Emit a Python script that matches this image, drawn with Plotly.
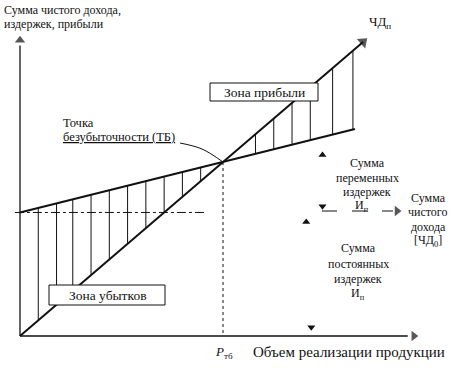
import numpy as np
import plotly.graph_objects as go

# ---- model data (break-even chart, conventional units) ----
revenue_x = [0.0, 16.9]          # net income line ЧД
revenue_y = [0.0, 16.9]
cost_x = [0.0, 16.5]             # total cost line
cost_y = [7.1, 11.9]
fixed_x = [-0.25, 9.2]           # fixed costs level
fixed_y = [7.1, 7.1]
breakeven_x = 10.0
breakeven_y = 10.0
loss_hatch_x = [0.9, 1.8, 2.6, 3.5, 4.4, 5.3, 6.2, 7.1, 8.0, 8.9]
profit_hatch_x = [11.6, 12.5, 13.4, 14.3, 15.4, 16.4]
axis_x_max = 19.4
axis_y_max = 17.0
# range markers (dimension arrows) for variable and fixed costs
var_range_x = [14.9, 14.9]
var_range_y = [10.4, 7.45]
fix_range_x = [14.1, 14.35]
fix_range_y = [6.55, 0.5]

W, H = 453, 368
X0, KX, Y0, KY = 20, 20.3, 336, 17.4


def dx(p):
    return (p - X0) / KX


def dy(p):
    return (Y0 - p) / KY


def px(x):
    return x / W


def py(y):
    return 1 - y / H


FONT = "Liberation Serif"
BLACK = "#111111"

fig = go.Figure()


def hatch(xs, top, bottom):
    X, Y = [], []
    for x in xs:
        X += [x, x, None]
        Y += [np.interp(x, top[0], top[1]), np.interp(x, bottom[0], bottom[1]), None]
    return X, Y


hx, hy = hatch(loss_hatch_x, (cost_x, cost_y), (revenue_x, revenue_y))
fig.add_trace(go.Scatter(x=hx, y=hy, mode="lines", line=dict(color=BLACK, width=1), hoverinfo="skip"))
hx, hy = hatch(profit_hatch_x, (revenue_x, revenue_y), (cost_x, cost_y))
fig.add_trace(go.Scatter(x=hx, y=hy, mode="lines", line=dict(color=BLACK, width=1), hoverinfo="skip"))

# fixed cost dashed line
fig.add_trace(go.Scatter(x=fixed_x, y=fixed_y, mode="lines",
                         line=dict(color=BLACK, width=1, dash="dashdot"), hoverinfo="skip"))
# break-even vertical dotted line
fig.add_trace(go.Scatter(x=[breakeven_x, breakeven_x], y=[breakeven_y, 0], mode="lines",
                         line=dict(color=BLACK, width=1, dash="dot"), hoverinfo="skip"))

# axes
fig.add_trace(go.Scatter(x=[0, 0], y=[0, axis_y_max - 0.3], mode="lines",
                         line=dict(color=BLACK, width=1.3), hoverinfo="skip"))
fig.add_trace(go.Scatter(x=[0, axis_x_max - 0.3], y=[0, 0], mode="lines",
                         line=dict(color=BLACK, width=1.3), hoverinfo="skip"))

# main lines
fig.add_trace(go.Scatter(x=cost_x, y=cost_y, mode="lines",
                         line=dict(color=BLACK, width=2), hoverinfo="skip"))
fig.add_trace(go.Scatter(x=revenue_x, y=revenue_y, mode="lines",
                         line=dict(color=BLACK, width=2), hoverinfo="skip"))

# leader curve to break-even point
fig.add_trace(go.Scatter(x=[dx(180), dx(202), breakeven_x], y=[dy(143), dy(149), breakeven_y],
                         mode="lines", line=dict(color=BLACK, width=1, shape="spline"),
                         hoverinfo="skip"))

# horizontal line to "Сумма чистого дохода"
fig.add_trace(go.Scatter(x=[dx(322), dx(393)], y=[dy(211), dy(211)], mode="lines",
                         line=dict(color=BLACK, width=1, dash="longdash"), hoverinfo="skip"))

# arrowheads as markers
fig.add_trace(go.Scatter(
    x=[0, axis_x_max, revenue_x[1], dx(397)],
    y=[axis_y_max, 0, revenue_y[1], dy(211)],
    mode="markers",
    marker=dict(symbol=["triangle-up", "triangle-right", "triangle-up", "triangle-right"],
                angle=[0, 0, 49, 0], size=[9, 9, 11, 9], color=BLACK, line=dict(width=0)),
    hoverinfo="skip"))

# range markers
fig.add_trace(go.Scatter(
    x=var_range_x + fix_range_x, y=var_range_y + fix_range_y, mode="markers",
    marker=dict(symbol=["triangle-up", "triangle-down", "triangle-up", "triangle-down"],
                size=7, color=BLACK, line=dict(width=0)),
    hoverinfo="skip"))

ann = []
shapes = [
    dict(type="rect", xref="paper", yref="paper", x0=px(210), x1=px(318), y0=py(101), y1=py(83),
         line=dict(color=BLACK, width=1), fillcolor="white", layer="above"),
    dict(type="rect", xref="paper", yref="paper", x0=px(49), x1=px(165), y0=py(305), y1=py(285),
         line=dict(color=BLACK, width=1), fillcolor="white", layer="above"),
]


def text(t, x, y, anchor="center", size=13):
    ann.append(dict(text=t, x=px(x), y=py(y), xref="paper", yref="paper", showarrow=False,
                    xanchor=anchor, yanchor="middle", borderpad=0,
                    font=dict(family=FONT, size=size, color=BLACK)))


text("Сумма чистого дохода,", 3, 10, "left", 12)
text("издержек, прибыли", 3, 24, "left", 12)
text("ЧД<sub>п</sub>", 380, 22)
text("Зона прибыли", 264, 92, size=13.5)
text("Зона убытков", 108, 295, size=13.5)
text("Точка", 62, 123, "left", 12.5)
text("<u>безубыточности (ТБ)</u>", 62, 137, "left", 12.5)

S = 12
text("Сумма", 367, 163, size=S)
text("переменных", 367, 178, size=S)
text("издержек", 367, 192, size=S)
text("И<sub>п</sub>", 362, 206, size=S)

text("Сумма", 428, 198, size=S)
text("чистого", 428, 212, size=S)
text("дохода", 428, 227, size=S)
text("[ЧД<sub>0</sub>]", 428, 241, size=S)

text("Сумма", 358, 248, size=S)
text("постоянных", 358, 264, size=S)
text("издержек", 358, 279, size=S)
text("И<sub>п</sub>", 358, 294, size=S)

text("<i>P</i><sub>тб</sub>", 224, 352)
text("Объем реализации продукции", 252, 352, "left", 15)

fig.update_layout(
    width=W, height=H, autosize=False,
    margin=dict(l=0, r=0, t=0, b=0),
    paper_bgcolor="white", plot_bgcolor="white",
    showlegend=False,
    xaxis=dict(range=[dx(0), dx(W)], visible=False, fixedrange=True),
    yaxis=dict(range=[dy(H), dy(0)], visible=False, fixedrange=True),
    annotations=ann, shapes=shapes,
)

fig.write_html("out.html", config={"displayModeBar": False, "staticPlot": True},
               post_script="document.body.style.margin='0';")
